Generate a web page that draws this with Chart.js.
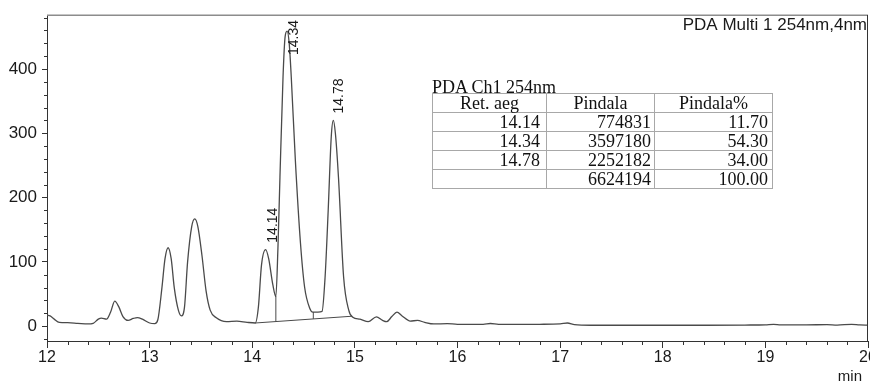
<!DOCTYPE html>
<html><head><meta charset="utf-8">
<script src="https://cdn.jsdelivr.net/npm/chart.js@4.4.1/dist/chart.umd.min.js"></script>
<style>
html,body{margin:0;padding:0;background:#fff;}
#wrap{position:relative;width:870px;height:383px;overflow:hidden;}
#c{position:absolute;left:0;top:0;}
#cap{position:absolute;left:432px;top:78px;font-family:"Liberation Serif","Times New Roman",serif;font-size:18px;line-height:18px;color:#111;white-space:nowrap;}
#tbl{position:absolute;left:432px;top:93px;border-collapse:collapse;font-family:"Liberation Serif","Times New Roman",serif;font-size:18px;color:#111;}
#tbl td{border:1px solid #a8a8a8;height:18px;line-height:17px;padding:0;white-space:nowrap;}
#tbl td.c1{width:107px;padding-right:6px;text-align:right;}
#tbl td.c2{width:104px;padding-right:3px;text-align:right;}
#tbl td.c3{width:113px;padding-right:4px;text-align:right;}
#tbl tr.h td{text-align:center;padding-right:0;}
</style></head>
<body><div id="wrap"><canvas id="c" width="870" height="383"></canvas>
<div id="cap">PDA Ch1 254nm</div>
<table id="tbl"></table></div>
<script>
// ---- data ----
const times  = [12.00,12.03,12.07,12.12,12.20,12.30,12.40,12.45,12.50,12.53,12.58,12.62,12.66,12.70,12.74,12.79,12.84,12.88,12.93,13.00,13.05,13.08,13.12,13.15,13.18,13.21,13.24,13.28,13.31,13.34,13.37,13.41,13.44,13.47,13.51,13.55,13.59,13.65,13.75,13.85,13.95,14.03,14.06,14.09,14.13,14.16,14.20,14.23,14.25,14.27,14.30,14.32,14.34,14.36,14.38,14.42,14.47,14.51,14.56,14.59,14.64,14.68,14.71,14.74,14.77,14.79,14.81,14.84,14.89,14.94,14.98,15.05,15.13,15.21,15.27,15.31,15.36,15.41,15.46,15.54,15.61,15.68,15.77,15.90,16.00,16.15,16.25,16.32,16.40,16.60,16.80,17.00,17.07,17.14,17.30,17.60,18.00,18.40,18.80,19.00,19.08,19.15,19.40,19.60,19.70,19.84,19.92,20.00];
const signal = [17,16,11,6,5.5,4.5,3.5,4.5,11,12.5,11,22,39,30,15,9,12,13.5,11,5,4,10,60,105,122,105,60,25,16,30,100,155,167,155,110,55,25,13,7,8,6,5,30,95,119,105,65,46,120,232,388,450,459,440,388,258,129,61,28,22,22,23,77,180,295,320,300,232,77,25,14,11,7,14.5,9,7,15,22,16,8,9,6,3.5,4,3,3,3,4.2,3,2.8,3,3.5,5,2.5,1.5,1.5,1.5,1.5,1.8,2.2,3,2,2,2.5,1.8,3,2,1.8];
const peakTimes   = [14.14, 14.34, 14.78];
const peakHeights = [119, 459, 320];
const peakLabels  = ['14.14', '14.34', '14.78'];
const baselineTimes  = [14.03, 14.97];
const baselineValues = [5, 15.5];
const dropTimes = [14.23, 14.595];
const dropTops  = [46.7, 22];
const xTickLabels = [12, 13, 14, 15, 16, 17, 18, 19, 20];
const yTickLabels = [0, 100, 200, 300, 400];
const tableTitle = 'PDA Ch1 254nm';
const tableHeader = ['Ret. aeg', 'Pindala', 'Pindala%'];
const tableRet  = ['14.14', '14.34', '14.78', ''];
const tableArea = ['774831', '3597180', '2252182', '6624194'];
const tablePct  = ['11.70', '54.30', '34.00', '100.00'];
const channelLabel = 'PDA Multi 1 254nm,4nm';
const xUnit = 'min';

// ---- table ----
document.getElementById('cap').textContent = tableTitle;
const tbl = document.getElementById('tbl');
let html = '<tr class="h"><td class="c1">'+tableHeader[0]+'</td><td class="c2">'+tableHeader[1]+'</td><td class="c3">'+tableHeader[2]+'</td></tr>';
for (let i = 0; i < tableArea.length; i++) {
  html += '<tr><td class="c1">'+tableRet[i]+'</td><td class="c2">'+tableArea[i]+'</td><td class="c3">'+tablePct[i]+'</td></tr>';
}
tbl.innerHTML = html;

// ---- chart ----
const baseAt = t => baselineValues[0] + (t - baselineTimes[0]) * (baselineValues[1] - baselineValues[0]) / (baselineTimes[1] - baselineTimes[0]);
const traceColor = '#4a4a4a';
const datasets = [{
  data: times.map((t, i) => ({x: t, y: signal[i]})),
  borderColor: traceColor, borderWidth: 1.3, pointRadius: 0, cubicInterpolationMode: 'monotone', fill: false
}, {
  data: baselineTimes.map((t, i) => ({x: t, y: baselineValues[i]})),
  borderColor: traceColor, borderWidth: 1, pointRadius: 0
}];
dropTimes.forEach((t, i) => datasets.push({
  data: [{x: t, y: baseAt(t)}, {x: t, y: dropTops[i]}],
  borderColor: traceColor, borderWidth: 1, pointRadius: 0
}));

const minorTicks = [];
for (let v = 12; v <= 20.001; v += 0.2) minorTicks.push(Math.round(v * 10) / 10);
const yMinor = [];
for (let v = -20; v <= 480; v += 20) yMinor.push(v);

const deco = {
  id: 'deco',
  afterDraw(chart) {
    const {ctx, chartArea: a, scales: {x, y}} = chart;
    ctx.save();
    ctx.strokeStyle = '#8c8c8c'; ctx.lineWidth = 1.5;
    ctx.beginPath(); ctx.moveTo(a.left, a.top + 0.25); ctx.lineTo(a.right, a.top + 0.25); ctx.stroke();
    ctx.strokeStyle = '#333'; ctx.lineWidth = 1;
    ctx.beginPath(); ctx.moveTo(a.right - 0.5, a.top); ctx.lineTo(a.right - 0.5, a.bottom); ctx.stroke();
    ctx.strokeStyle = '#333'; ctx.lineWidth = 1;
    minorTicks.forEach(v => {
      if (Math.abs(v - Math.round(v)) < 1e-6) return;
      const px = Math.round(x.getPixelForValue(v)) + 0.5;
      ctx.beginPath(); ctx.moveTo(px, a.bottom); ctx.lineTo(px, a.bottom + 4); ctx.stroke();
    });
    yMinor.forEach(v => {
      if (v % 100 === 0) return;
      const py = Math.round(y.getPixelForValue(v)) + 0.5;
      ctx.beginPath(); ctx.moveTo(a.left, py); ctx.lineTo(a.left - 3, py); ctx.stroke();
    });
    ctx.fillStyle = '#1a1a1a';
    ctx.font = '17px "Liberation Sans", Arial, sans-serif';
    ctx.textAlign = 'right'; ctx.textBaseline = 'middle';
    ctx.fillText(channelLabel, a.right - 1, a.top + 10);
    ctx.font = '15px "Liberation Sans", Arial, sans-serif';
    ctx.fillText(xUnit, a.right - 6, 377);
    ctx.font = '14px "Liberation Sans", Arial, sans-serif';
    ctx.textAlign = 'left'; ctx.textBaseline = 'alphabetic';
    peakTimes.forEach((t, i) => {
      const px = x.getPixelForValue(t);
      const w = ctx.measureText(peakLabels[i]).width;
      let bottom = y.getPixelForValue(peakHeights[i]) - 7;
      if (bottom - w < a.top + 5) bottom = a.top + 5 + w;
      ctx.save();
      ctx.translate(px + 10.5, bottom);
      ctx.rotate(-Math.PI / 2);
      ctx.fillText(peakLabels[i], 0, 0);
      ctx.restore();
    });
    ctx.restore();
  }
};

new Chart(document.getElementById('c'), {
  type: 'line',
  data: {datasets},
  options: {
    responsive: false, animation: false, devicePixelRatio: 1,
    layout: {padding: {top: 15, right: 2, left: 0, bottom: 0}},
    plugins: {legend: {display: false}, tooltip: {enabled: false}},
    elements: {line: {tension: 0}},
    scales: {
      x: {
        type: 'linear', min: 12, max: 20,
        afterBuildTicks: s => { s.ticks = xTickLabels.map(v => ({value: v})); },
        afterFit: s => { s.height = 42; s.paddingLeft = 0; s.paddingRight = 0; },
        ticks: {autoSkip: false, maxRotation: 0, padding: 0, color: '#1a1a1a',
          font: {family: '"Liberation Sans", Arial, sans-serif', size: 16},
          callback: v => String(v)},
        grid: {drawOnChartArea: false, drawTicks: true, tickLength: 7, tickColor: '#333'},
        border: {display: true, color: '#333', width: 1}
      },
      y: {
        type: 'linear', min: -23, max: 484,
        afterBuildTicks: s => { s.ticks = yTickLabels.map(v => ({value: v})); },
        afterFit: s => { s.width = 47; s.paddingTop = 0; s.paddingBottom = 0; },
        ticks: {autoSkip: false, padding: 5, color: '#1a1a1a',
          font: {family: '"Liberation Sans", Arial, sans-serif', size: 17},
          callback: v => String(v)},
        grid: {drawOnChartArea: false, drawTicks: true, tickLength: 5, tickColor: '#333'},
        border: {display: true, color: '#333', width: 1}
      }
    }
  },
  plugins: [deco]
});
</script>
</body></html>
